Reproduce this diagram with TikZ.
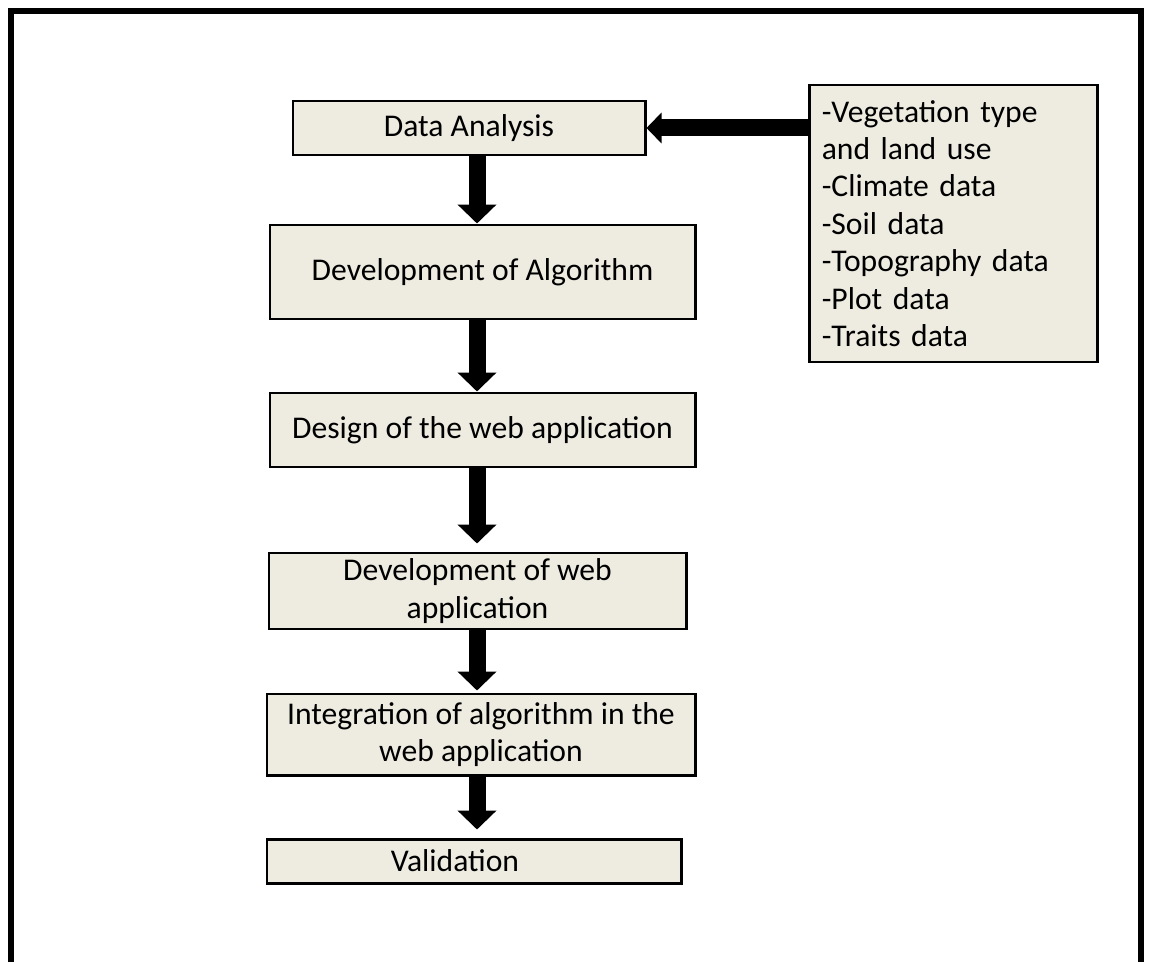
\documentclass[tikz,border=0pt]{standalone}
\usepackage{fontspec}
\setmainfont{Carlito}
\usepackage{tikz}
\usetikzlibrary{arrows.meta,positioning,calc}
\usepackage{xcolor}
\definecolor{stepFill}{HTML}{EEECE1}
\tikzset{
    stagebox/.style={draw=black,line width=1.7pt,fill=stepFill,align=center,inner sep=0pt,font=\fontsize{18}{21.3}\selectfont},
    sourcebox/.style={draw=black,line width=1.7pt,fill=stepFill,align=left,inner sep=0pt,text width=5.25cm,font=\fontsize{18}{21.3}\selectfont},
    flowarrow/.style={-{Triangle[width=0.76cm,length=0.38cm]},line width=0.34cm,black},
    inarrow/.style={-{Triangle[width=0.6cm,length=0.3cm]},line width=0.34cm,black}
}

\begin{document}
\begin{tikzpicture}
\useasboundingbox (0,0) rectangle (22.98,19.24);

% Outer frame (open at the bottom)
\draw[line width=3.4pt] (0.22,0) -- (0.22,19.02) -- (22.82,19.02) -- (22.82,0);

% Workflow steps
\node[stagebox,minimum width=7.04cm,minimum height=1.08cm] at (9.38,16.68) (da) {Data Analysis};
\node[stagebox,minimum width=8.5cm,minimum height=1.88cm] at (9.65,13.8) (devalg) {Development of Algorithm};
\node[stagebox,minimum width=8.5cm,minimum height=1.48cm] at (9.65,10.64) (design) {Design of the web application};
\node[stagebox,minimum width=8.34cm,minimum height=1.52cm] at (9.55,7.42) (devweb) {Development of web\\application};
\node[stagebox,minimum width=8.56cm,minimum height=1.62cm] at (9.62,4.55) (integ) {Integration of algorithm in the\\web application};
\node[stagebox,minimum width=8.28cm,minimum height=0.88cm] at (9.48,2.02) (valid) {Validation\hspace*{0.76cm}};

% Input data
\node[sourcebox,minimum width=5.76cm,minimum height=5.54cm] at (19.06,14.77) (src) {-Vegetation type\\and land use\\-Climate data\\-Soil data\\-Topography data\\-Plot data\\-Traits data};

% Arrows
\coordinate (ax) at (9.54,0);
\draw[flowarrow] (da.south -| ax) -- (devalg.north -| ax);
\draw[flowarrow] (devalg.south -| ax) -- (design.north -| ax);
\draw[flowarrow,shorten >=0.16cm] (design.south -| ax) -- (devweb.north -| ax);
\draw[flowarrow,shorten >=0.04cm] (devweb.south -| ax) -- (integ.north -| ax);
\draw[flowarrow,shorten >=0.16cm] (integ.south -| ax) -- (valid.north -| ax);
\draw[inarrow] (src.west |- da.east) -- (da.east);

\end{tikzpicture}
\end{document}
